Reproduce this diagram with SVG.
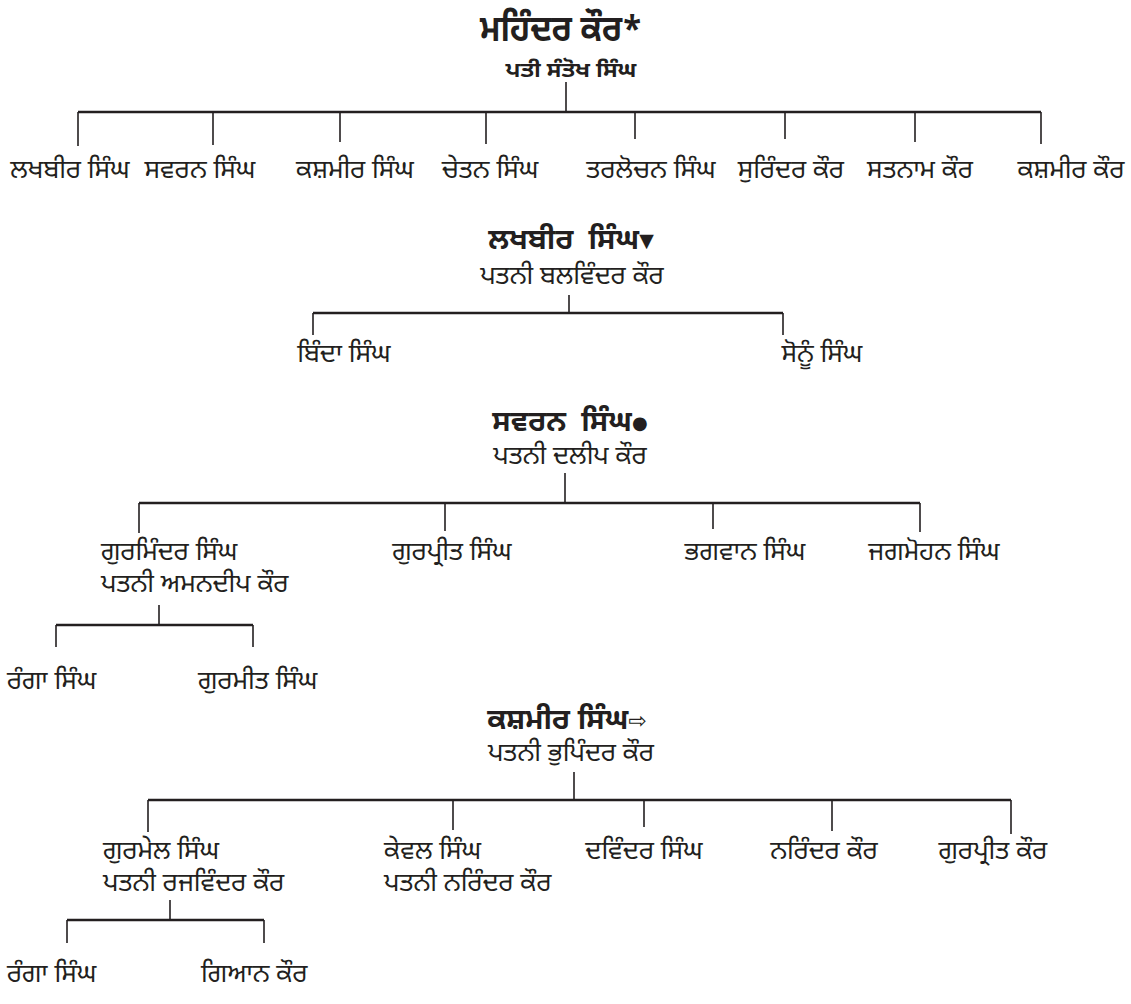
<svg xmlns="http://www.w3.org/2000/svg" width="1131" height="1004" viewBox="0 0 1131 1004">
<style>
text{font-family:"Noto Sans Gurmukhi","Noto Sans","DejaVu Sans",sans-serif;fill:#231f20}
.lbl{font-size:26px}
.mid{text-anchor:middle}
.head{font-size:29px;font-weight:bold}
.top{font-size:36px;font-weight:bold}
.sub{font-size:21px;font-weight:bold}
.sym{font-family:"DejaVu Sans",sans-serif;font-weight:normal}
.h{stroke:#231f20;stroke-width:2.6;fill:none}
.v{stroke:#231f20;stroke-width:1.6;fill:none}
</style>
<rect width="1131" height="1004" fill="#fff"/>
<g id="connectors">
<line class="v" x1="566" y1="82" x2="566" y2="112"/>
<line class="h" x1="78" y1="112" x2="1041" y2="112"/>
<line class="v" x1="78" y1="112" x2="78" y2="146"/>
<line class="v" x1="213" y1="112" x2="213" y2="145"/>
<line class="v" x1="340" y1="112" x2="340" y2="142"/>
<line class="v" x1="486" y1="112" x2="486" y2="144"/>
<line class="v" x1="635" y1="112" x2="635" y2="139"/>
<line class="v" x1="785" y1="112" x2="785" y2="139"/>
<line class="v" x1="915" y1="112" x2="915" y2="142"/>
<line class="v" x1="1041" y1="112" x2="1041" y2="144"/>
<line class="v" x1="569" y1="295" x2="569" y2="313"/>
<line class="h" x1="313" y1="313" x2="783" y2="313"/>
<line class="v" x1="313" y1="313" x2="313" y2="335"/>
<line class="v" x1="783" y1="313" x2="783" y2="335"/>
<line class="v" x1="565" y1="473" x2="565" y2="503"/>
<line class="h" x1="139" y1="503" x2="920" y2="503"/>
<line class="v" x1="139" y1="503" x2="139" y2="533"/>
<line class="v" x1="445" y1="503" x2="445" y2="531"/>
<line class="v" x1="713" y1="503" x2="713" y2="529"/>
<line class="v" x1="920" y1="503" x2="920" y2="532"/>
<line class="v" x1="159" y1="605" x2="159" y2="625"/>
<line class="h" x1="56" y1="625" x2="253" y2="625"/>
<line class="v" x1="56" y1="625" x2="56" y2="647"/>
<line class="v" x1="253" y1="625" x2="253" y2="647"/>
<line class="v" x1="574" y1="772" x2="574" y2="800"/>
<line class="h" x1="148" y1="800" x2="1011" y2="800"/>
<line class="v" x1="148" y1="800" x2="148" y2="832"/>
<line class="v" x1="453" y1="800" x2="453" y2="830"/>
<line class="v" x1="644" y1="800" x2="644" y2="827"/>
<line class="v" x1="832" y1="800" x2="832" y2="831"/>
<line class="v" x1="1011" y1="800" x2="1011" y2="834"/>
<line class="v" x1="170" y1="900" x2="170" y2="920"/>
<line class="h" x1="67" y1="920" x2="264" y2="920"/>
<line class="v" x1="67" y1="920" x2="67" y2="943"/>
<line class="v" x1="264" y1="920" x2="264" y2="943"/>
</g>
<g id="mahinder-kaur"><text class="top mid" x="561" y="41" textLength="162" lengthAdjust="spacingAndGlyphs">ਮਹਿੰਦਰ ਕੌਰ*</text><text class="sub mid" x="571" y="77" textLength="131" lengthAdjust="spacingAndGlyphs">ਪਤੀ ਸੰਤੋਖ ਸਿੰਘ</text></g>
<g id="c1-lakhbir"><text class="lbl mid" x="70" y="178">ਲਖਬੀਰ ਸਿੰਘ</text></g>
<g id="c1-swaran"><text class="lbl mid" x="200" y="178">ਸਵਰਨ ਸਿੰਘ</text></g>
<g id="c1-kashmir"><text class="lbl mid" x="355" y="178">ਕਸ਼ਮੀਰ ਸਿੰਘ</text></g>
<g id="c1-chetan"><text class="lbl mid" x="490" y="178">ਚੇਤਨ ਸਿੰਘ</text></g>
<g id="c1-tarlochan"><text class="lbl mid" x="651" y="178">ਤਰਲੋਚਨ ਸਿੰਘ</text></g>
<g id="c1-surinder"><text class="lbl mid" x="791" y="178">ਸੁਰਿੰਦਰ ਕੌਰ</text></g>
<g id="c1-satnam"><text class="lbl mid" x="920" y="178">ਸਤਨਾਮ ਕੌਰ</text></g>
<g id="c1-kashmirkaur"><text class="lbl mid" x="1071" y="178">ਕਸ਼ਮੀਰ ਕੌਰ</text></g>
<g id="lakhbir"><text class="head mid" x="571" y="249">ਲਖਬੀਰ&#160; ਸਿੰਘ<tspan class="sym" font-size="19" dy="-2">▼</tspan></text><text class="lbl mid" x="572" y="284">ਪਤਨੀ ਬਲਵਿੰਦਰ ਕੌਰ</text></g>
<g id="binda"><text class="lbl mid" x="344" y="362">ਬਿੰਦਾ ਸਿੰਘ</text></g>
<g id="sonu"><text class="lbl mid" x="822" y="362">ਸੋਨੂੰ ਸਿੰਘ</text></g>
<g id="swaran"><text class="head mid" x="570" y="431">ਸਵਰਨ&#160; ਸਿੰਘ<tspan class="sym" font-size="18" dy="-2">●</tspan></text><text class="lbl mid" x="570" y="464">ਪਤਨੀ ਦਲੀਪ ਕੌਰ</text></g>
<g id="gurminder"><text class="lbl" x="101" y="560">ਗੁਰਮਿੰਦਰ ਸਿੰਘ</text><text class="lbl" x="101" y="592">ਪਤਨੀ ਅਮਨਦੀਪ ਕੌਰ</text></g>
<g id="gurpreet-singh"><text class="lbl mid" x="452" y="560">ਗੁਰਪ੍ਰੀਤ ਸਿੰਘ</text></g>
<g id="bhagwan"><text class="lbl mid" x="745" y="560">ਭਗਵਾਨ ਸਿੰਘ</text></g>
<g id="jagmohan"><text class="lbl mid" x="934" y="560">ਜਗਮੋਹਨ ਸਿੰਘ</text></g>
<g id="ranga-1"><text class="lbl" x="7" y="689">ਰੰਗਾ ਸਿੰਘ</text></g>
<g id="gurmeet"><text class="lbl" x="198" y="689">ਗੁਰਮੀਤ ਸਿੰਘ</text></g>
<g id="kashmir"><text class="head mid" x="567" y="729">ਕਸ਼ਮੀਰ ਸਿੰਘ<tspan class="sym" font-size="22" dy="-1">⇨</tspan></text><text class="lbl mid" x="571" y="761">ਪਤਨੀ ਭੁਪਿੰਦਰ ਕੌਰ</text></g>
<g id="gurmel"><text class="lbl" x="103" y="859">ਗੁਰਮੇਲ ਸਿੰਘ</text><text class="lbl" x="103" y="891">ਪਤਨੀ ਰਜਵਿੰਦਰ ਕੌਰ</text></g>
<g id="kewal"><text class="lbl" x="384" y="859">ਕੇਵਲ ਸਿੰਘ</text><text class="lbl" x="384" y="891">ਪਤਨੀ ਨਰਿੰਦਰ ਕੌਰ</text></g>
<g id="davinder"><text class="lbl mid" x="644" y="859">ਦਵਿੰਦਰ ਸਿੰਘ</text></g>
<g id="narinder"><text class="lbl mid" x="824" y="859">ਨਰਿੰਦਰ ਕੌਰ</text></g>
<g id="gurpreet-kaur"><text class="lbl mid" x="993" y="859">ਗੁਰਪ੍ਰੀਤ ਕੌਰ</text></g>
<g id="ranga-2"><text class="lbl" x="7" y="982">ਰੰਗਾ ਸਿੰਘ</text></g>
<g id="gian"><text class="lbl" x="201" y="982">ਗਿਆਨ ਕੌਰ</text></g>
</svg>
